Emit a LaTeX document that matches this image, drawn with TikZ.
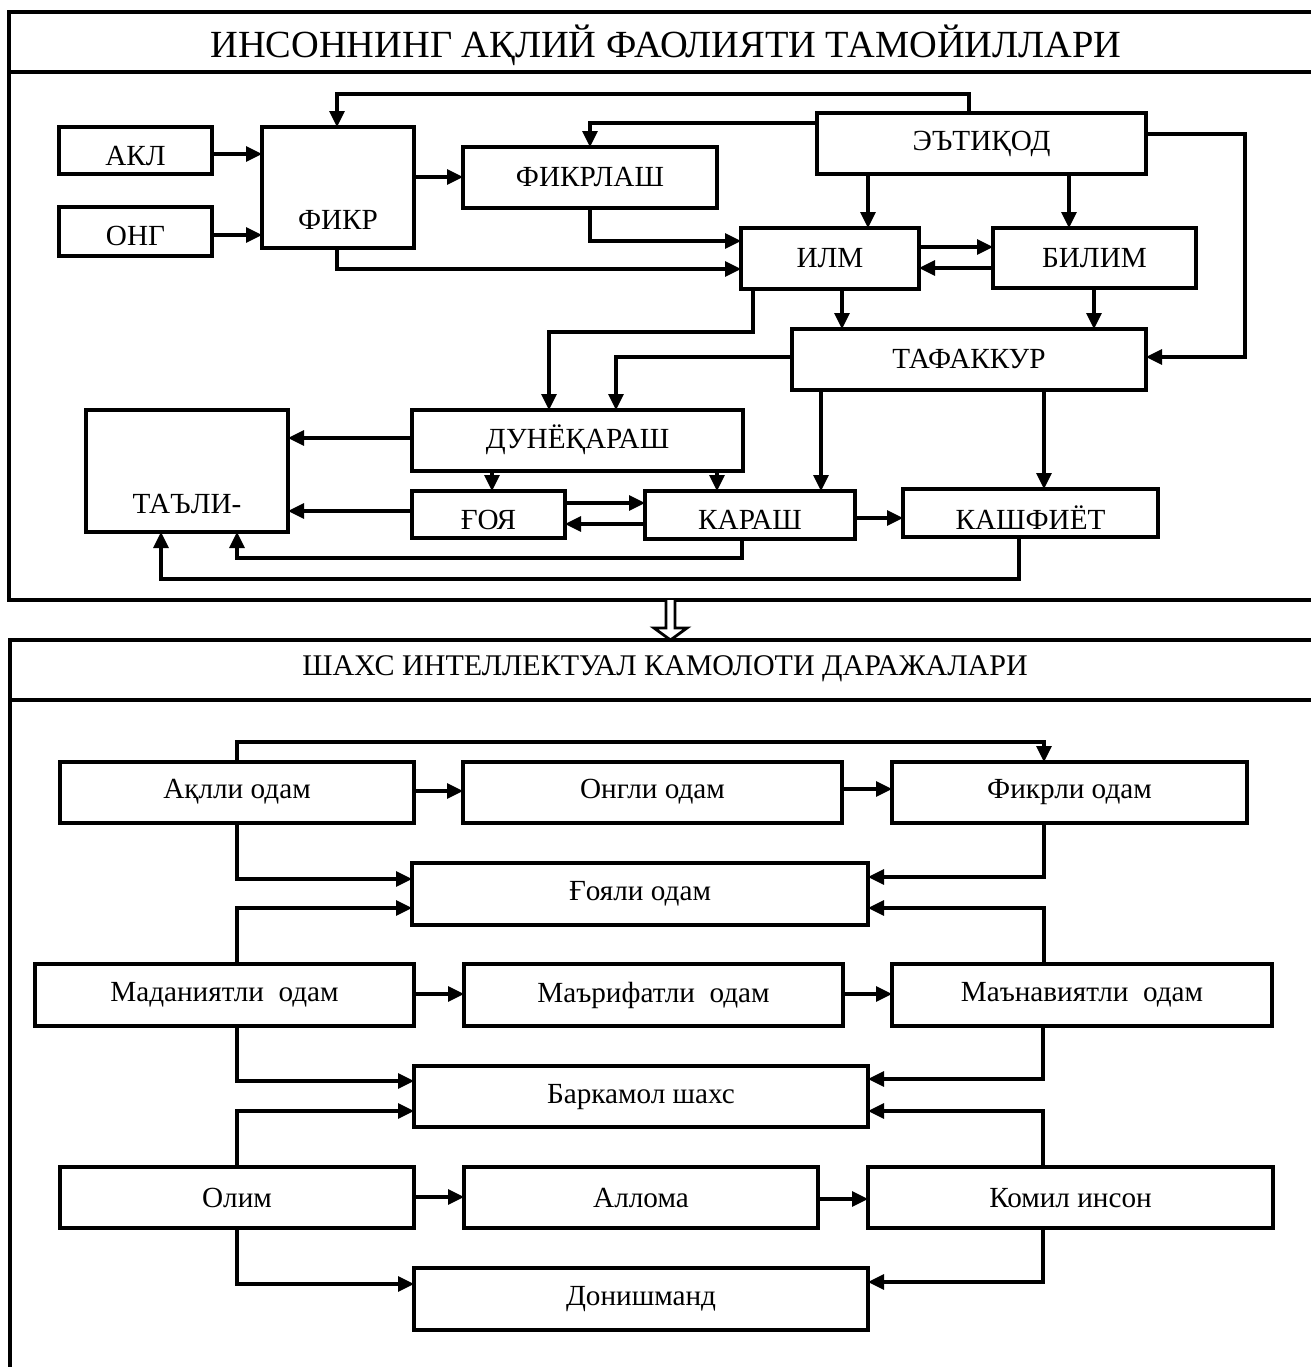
\documentclass[tikz,border=0pt]{standalone}
\usepackage{fontspec}
\setmainfont{Liberation Serif}
\usetikzlibrary{arrows.meta}
\tikzset{
  box/.style={draw, line width=1.8pt, inner sep=0pt, outer sep=0pt},
  lbl/.style={inner sep=0pt, font=\fontsize{14.6}{16}\selectfont},
  lbllow/.style={inner sep=0pt, font=\fontsize{14.6}{16}\selectfont},
  arr/.style={line width=1.6pt, -{Triangle[length=8pt,width=7.5pt]}},
  frame/.style={line width=2pt},
}
\newcommand\drawbox[8]{%
  \node[box,minimum width={(#4-#2)*0.5pt},minimum height={(#5-#3)*0.5pt}] (#1) at ({(#2+#4)/2},{(#3+#5)/2}) {};
  \node[#7] (#1-t) at ({(#2+#4)/2},#6) {#8};}
\begin{document}
\begin{tikzpicture}[x=0.5pt,y=-0.5pt]
\clip (0,0) rectangle (1311,1367);
% ---------- frames ----------
\draw[frame] (1330,12) -- (9,12) -- (9,600) -- (1330,600);
\draw[frame] (9,72) -- (1330,72);
\node[inner sep=0pt, font=\fontsize{19.2}{22}\selectfont] (title1) at (666,45) {ИНСОННИНГ АҚЛИЙ ФАОЛИЯТИ ТАМОЙИЛЛАРИ};
\draw[frame] (1330,640) -- (10,640) -- (10,1380);
\draw[frame] (10,700) -- (1330,700);
\node[inner sep=0pt, font=\fontsize{15}{18}\selectfont] (title2) at (665,669) {ШАХС ИНТЕЛЛЕКТУАЛ КАМОЛОТИ ДАРАЖАЛАРИ};
% double arrow
\draw[line width=1.4pt, fill=white] (666,600) -- (666,628) -- (654,628) -- (670.5,640) -- (687,628) -- (675,628) -- (675,600);
% ---------- upper boxes ----------
\drawbox{akl}{59}{127}{212}{174}{156}{lbl}{АКЛ}
\drawbox{ong}{59}{207}{212}{256}{236}{lbl}{ОНГ}
\drawbox{fikr}{262}{127}{414}{248}{220}{lbl}{ФИКР}
\drawbox{fikrlash}{463}{147}{717}{208}{177}{lbl}{ФИКРЛАШ}
\drawbox{etiq}{817}{113}{1146}{174}{144}{lbl}{ЭЪТИҚОД}
\drawbox{ilm}{741}{228}{919}{289}{258}{lbl}{ИЛМ}
\drawbox{bilim}{993}{228}{1196}{288}{258}{lbl}{БИЛИМ}
\drawbox{tafakkur}{792}{329}{1146}{390}{359}{lbl}{ТАФАККУР}
\drawbox{dunyo}{412}{410}{743}{471}{440}{lbl}{ДУНЁҚАРАШ}
\drawbox{talim}{86}{410}{288}{532}{504}{lbl}{ТАЪЛИ-}
\drawbox{goya}{412}{491}{565}{538}{520}{lbl}{ҒОЯ}
\drawbox{qarash}{645}{491}{855}{539}{520}{lbl}{КАРАШ}
\drawbox{kashf}{903}{489}{1158}{537}{518}{lbl}{КАШФИЁТ}
% ---------- upper connectors ----------
\draw[arr] (akl.east |- 0,154) -- (fikr.west |- 0,154);
\draw[arr] (ong.east |- 0,235) -- (fikr.west |- 0,235);
\draw[arr] (fikr.east |- 0,177) -- (fikrlash.west |- 0,177);
\draw[arr] (etiq.north -| 969,0) -- ++(0,-19) -| (fikr.north -| 337,0);
\draw[arr] (etiq.west |- 0,123) -| (fikrlash.north -| 590,0);
\draw[arr] (fikrlash.south -| 590,0) |- (ilm.west |- 0,241);
\draw[arr] (fikr.south -| 337,0) |- (ilm.west |- 0,269);
\draw[arr] (etiq.south -| 868,0) -- (ilm.north -| 868,0);
\draw[arr] (etiq.south -| 1069,0) -- (bilim.north -| 1069,0);
\draw[arr] (ilm.east |- 0,247) -- (bilim.west |- 0,247);
\draw[arr] (bilim.west |- 0,268) -- (ilm.east |- 0,268);
\draw[arr] (etiq.east |- 0,134) -- ++(99,0) |- (tafakkur.east |- 0,357);
\draw[arr] (ilm.south -| 842,0) -- (tafakkur.north -| 842,0);
\draw[arr] (bilim.south -| 1094,0) -- (tafakkur.north -| 1094,0);
\draw[arr] (ilm.south -| 753,0) -- ++(0,43) -| (dunyo.north -| 549,0);
\draw[arr] (tafakkur.west |- 0,357) -| (dunyo.north -| 616,0);
\draw[arr] (tafakkur.south -| 821,0) -- (qarash.north -| 821,0);
\draw[arr] (tafakkur.south -| 1044,0) -- (kashf.north -| 1044,0);
\draw[arr] (dunyo.west |- 0,438) -- (talim.east |- 0,438);
\draw[arr] (goya.west |- 0,511) -- (talim.east |- 0,511);
\draw[arr] (dunyo.south -| 492,0) -- (goya.north -| 492,0);
\draw[arr] (dunyo.south -| 717,0) -- (qarash.north -| 717,0);
\draw[arr] (goya.east |- 0,503) -- (qarash.west |- 0,503);
\draw[arr] (qarash.west |- 0,524) -- (goya.east |- 0,524);
\draw[arr] (qarash.east |- 0,518) -- (kashf.west |- 0,518);
\draw[arr] (qarash.south -| 742,0) -- ++(0,19) -| (talim.south -| 237,0);
\draw[arr] (kashf.south -| 1019,0) -- ++(0,42) -| (talim.south -| 161,0);
% ---------- lower boxes ----------
\drawbox{aqlli}{60}{762}{414}{823}{792}{lbllow}{Ақлли одам}
\drawbox{ongli}{463}{762}{842}{823}{792}{lbllow}{Онгли одам}
\drawbox{fikrli}{892}{762}{1247}{823}{792}{lbllow}{Фикрли одам}
\drawbox{goyali}{412}{863}{868}{925}{894}{lbllow}{Ғояли одам}
\drawbox{madan}{35}{964}{414}{1026}{995}{lbllow}{Маданиятли~ одам}
\drawbox{marif}{464}{964}{843}{1026}{995}{lbllow}{Маърифатли~ одам}
\drawbox{manav}{892}{964}{1272}{1026}{995}{lbllow}{Маънавиятли~ одам}
\drawbox{barkamol}{414}{1066}{868}{1127}{1097}{lbllow}{Баркамол шахс}
\drawbox{olim}{60}{1167}{414}{1228}{1198}{lbllow}{Олим}
\drawbox{alloma}{464}{1167}{818}{1228}{1198}{lbllow}{Аллома}
\drawbox{komil}{868}{1167}{1273}{1228}{1198}{lbllow}{Комил инсон}
\drawbox{donish}{414}{1268}{868}{1330}{1299}{lbllow}{Донишманд}
% ---------- lower connectors ----------
\draw[arr] (aqlli.north -| 237,0) -- ++(0,-20) -| (fikrli.north -| 1044,0);
\draw[arr] (aqlli.east |- 0,791) -- (ongli.west |- 0,791);
\draw[arr] (ongli.east |- 0,789) -- (fikrli.west |- 0,789);
\draw[arr] (aqlli.south -| 237,0) |- (goyali.west |- 0,879);
\draw[arr] (madan.north -| 237,0) |- (goyali.west |- 0,908);
\draw[arr] (fikrli.south -| 1044,0) |- (goyali.east |- 0,877);
\draw[arr] (manav.north -| 1044,0) |- (goyali.east |- 0,908);
\draw[arr] (madan.east |- 0,994) -- (marif.west |- 0,994);
\draw[arr] (marif.east |- 0,994) -- (manav.west |- 0,994);
\draw[arr] (madan.south -| 237,0) |- (barkamol.west |- 0,1081);
\draw[arr] (olim.north -| 237,0) |- (barkamol.west |- 0,1111);
\draw[arr] (manav.south -| 1043,0) |- (barkamol.east |- 0,1079);
\draw[arr] (komil.north -| 1043,0) |- (barkamol.east |- 0,1111);
\draw[arr] (olim.east |- 0,1197) -- (alloma.west |- 0,1197);
\draw[arr] (alloma.east |- 0,1199) -- (komil.west |- 0,1199);
\draw[arr] (olim.south -| 237,0) |- (donish.west |- 0,1284);
\draw[arr] (komil.south -| 1043,0) |- (donish.east |- 0,1282);
\end{tikzpicture}
\end{document}
